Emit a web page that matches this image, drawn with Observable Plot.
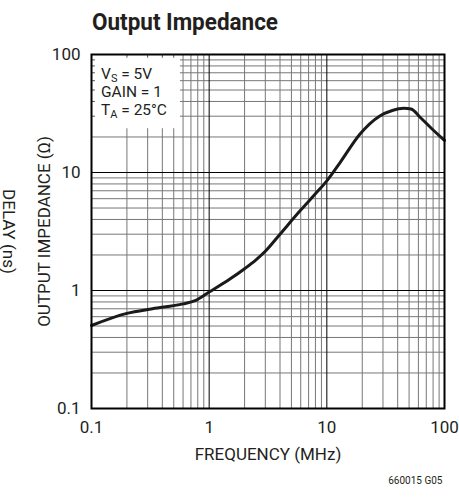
<!DOCTYPE html>
<html><head><meta charset="utf-8">
<script src="https://cdn.jsdelivr.net/npm/d3@7"></script>
<script src="https://cdn.jsdelivr.net/npm/@observablehq/plot@0.6"></script>
<style>body{margin:0;background:#fff}</style>
</head><body><div id="chart"></div>
<script>
const freq =      [0.1, 0.2, 0.33, 0.6, 0.76, 1, 1.5, 2, 2.5, 3, 4, 6, 8, 10, 13, 19, 28, 36, 45, 52, 62, 78, 100];
const impedance = [0.505, 0.64, 0.70, 0.77, 0.82, 0.97, 1.25, 1.53, 1.82, 2.15, 3.0, 4.8, 6.6, 8.5, 12.2, 21, 30, 33.5, 35, 34.5, 29.4, 23.5, 18.7];
const decades = [0.1, 1, 10, 100];
const decadeLabels = ["0.1", "1", "10", "100"];
const multipliers = [2, 3, 4, 5, 6, 7, 8, 9];
const legendLines = [["V", "S", " = 5V"], ["GAIN = 1", "", ""], ["T", "A", " = 25°C"]];
const titleText = "Output Impedance";
const xLabel = "FREQUENCY (MHz)";
const yLabel = "OUTPUT IMPEDANCE (Ω)";
const leftLabel = "DELAY (ns)";
const partNo = "660015 G05";

const minors = [];
for (const d of decades.slice(0, 3)) for (const m of multipliers) minors.push(+(d * m).toPrecision(3));
const data = freq.map((f, i) => ({f, z: impedance[i]}));

const FONT = 'Roboto, "Liberation Sans", sans-serif';
const INK = "#231f20";
const boxX = 0.57, boxY = 23.5;

const plot = Plot.plot({
  width: 459, height: 497,
  marginLeft: 91, marginRight: 15, marginTop: 54, marginBottom: 89,
  style: {fontFamily: FONT, background: "#fff", color: INK},
  x: {type: "log", domain: [0.1, 100]},
  y: {type: "log", domain: [0.1, 100]},
  marks: [
    Plot.ruleX(minors, {stroke: "#777", strokeWidth: 1}),
    Plot.ruleY(minors, {stroke: "#777", strokeWidth: 1}),
    Plot.ruleX(decades, {stroke: "#000", strokeWidth: 1}),
    Plot.ruleY(decades, {stroke: "#000", strokeWidth: 1}),
    Plot.rect([{x1: 0.1, x2: boxX, y1: boxY, y2: 100}], {x1: "x1", x2: "x2", y1: "y1", y2: "y2", fill: "#fff"}),
    Plot.ruleY(minors.filter(v => v > boxY), {x1: 0.1, x2: 0.108, stroke: "#555"}),
    Plot.ruleX(minors.filter(v => v < boxX), {y1: 100, y2: 93, stroke: "#555"}),
    Plot.line(data, {x: "f", y: "z", stroke: "#1a1a1a", strokeWidth: 3, curve: "monotone-x"}),
    Plot.frame({stroke: "#000", strokeWidth: 2}),
    Plot.axisX({ticks: decades, tickFormat: d => decadeLabels[decades.indexOf(d)], tickSize: 0, tickPadding: 12, fontSize: 17, label: null}),
    Plot.axisY({ticks: decades, tickFormat: d => decadeLabels[decades.indexOf(d)], tickSize: 0, tickPadding: 11, fontSize: 17, label: null}),
    Plot.text([xLabel], {text: d => d, frameAnchor: "bottom", textAnchor: "middle", lineAnchor: "bottom", dy: 51, fontSize: 17, fill: INK}),
    Plot.text([yLabel], {text: d => d, frameAnchor: "left", textAnchor: "middle", lineAnchor: "middle", rotate: -90, dx: -47, fontSize: 17, fill: INK}),
    Plot.text([leftLabel], {text: d => d, frameAnchor: "left", textAnchor: "middle", lineAnchor: "middle", rotate: 90, dx: -83, fontSize: 17, fill: INK}),
    Plot.text([partNo], {text: d => d, frameAnchor: "bottom-right", textAnchor: "end", lineAnchor: "bottom", dx: -2, dy: 75, fontSize: 10, fill: INK})
  ]
});

const svg = d3.select(plot);
const x0 = plot.scale("x").apply(0.1);
const y0 = plot.scale("y").apply(100);
svg.append("text")
  .attr("x", x0 + 1).attr("y", y0 - 24).attr("text-anchor", "start")
  .attr("font-family", FONT).attr("font-size", 24).attr("font-weight", "bold")
  .attr("fill", INK).attr("textLength", 186).attr("lengthAdjust", "spacingAndGlyphs")
  .text(titleText);
legendLines.forEach((parts, i) => {
  const t = svg.append("text")
    .attr("x", x0 + 10).attr("y", y0 + 25 + i * 18).attr("text-anchor", "start")
    .attr("font-family", FONT).attr("font-size", 15.5).attr("fill", INK);
  t.append("tspan").text(parts[0]);
  if (parts[1]) {
    t.append("tspan").attr("font-size", 11).attr("dy", 3).text(parts[1]);
    t.append("tspan").attr("dy", -3).text(parts[2]);
  }
});
document.getElementById("chart").appendChild(plot);
</script>
</body></html>
